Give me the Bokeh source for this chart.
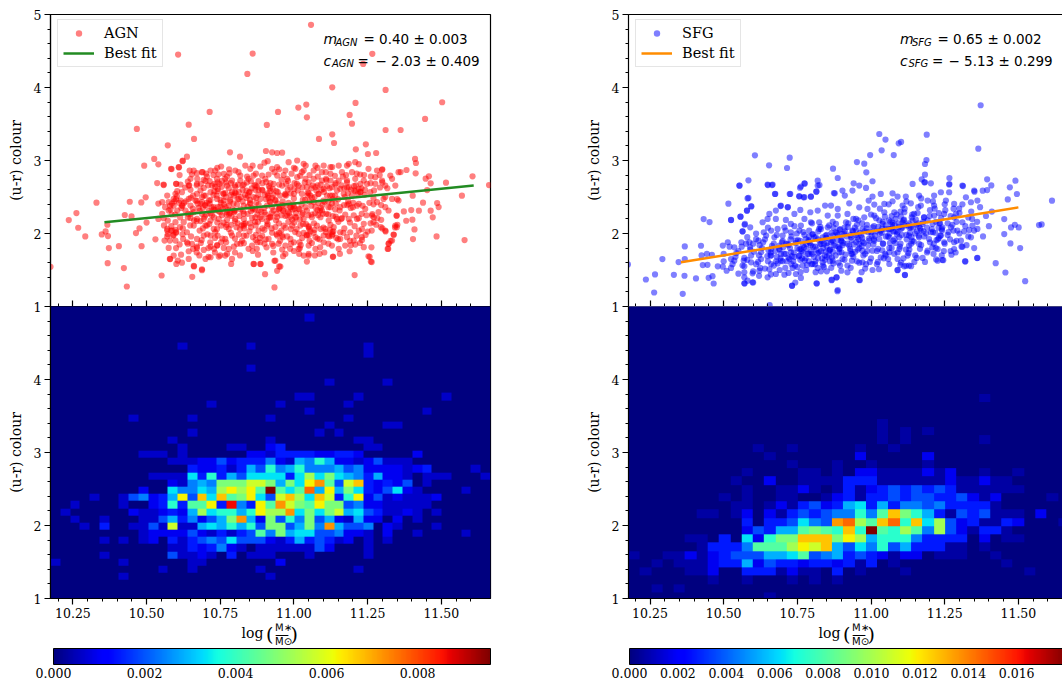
import numpy as np
from bokeh.plotting import figure
from bokeh.layouts import row, column
from bokeh.models import (ColumnDataSource, LinearColorMapper, ColorBar, FixedTicker, Label,
                          NumeralTickFormatter, LinearAxis, Range1d, CustomLabelingPolicy)
from bokeh.embed import file_html
from bokeh.resources import INLINE

SERIF = "DejaVu Serif"
SANS = "DejaVu Sans"
x_major = [10.25, 10.5, 10.75, 11.0, 11.25, 11.5]
x_minor = [round(10.2 + 0.05 * i, 2) for i in range(29)]
y_major_top = [1, 2, 3, 4, 5]
y_major_low = [1, 2, 3, 4]
y_minor = [round(1 + 0.2 * i, 1) for i in range(21)]
agn_fit_x = [10.357, 11.61]
agn_fit_y = [2.153, 2.656]
sfg_fit_x = [10.355, 11.5]
sfg_fit_y = [1.605, 2.358]
agn_ticks = [0, 0.002, 0.004, 0.006, 0.008]
sfg_ticks = [0, 0.002, 0.004, 0.006, 0.008, 0.010, 0.012, 0.014, 0.016]
agn_vmax = 0.0096
sfg_vmax = 0.0181

agn_points = [
(10.174,1.544),(10.236,2.184),(10.262,2.280),(10.268,2.079),(10.292,1.960),(10.330,2.422),(10.348,1.987),(10.361,2.029),
(10.369,1.965),(10.367,2.120),(10.372,1.800),(10.368,1.594),(10.406,1.827),(10.423,1.526),(10.433,1.274),(10.426,2.253),
(10.449,2.234),(10.443,2.435),(10.464,2.006),(10.476,2.070),(10.483,1.827),(10.467,3.432),(10.492,2.929),(10.526,3.021),
(10.540,2.947),(10.572,3.208),(10.643,3.491),(10.661,3.295),(10.607,4.451),(10.714,3.665),(10.860,4.465),(10.842,4.186),
(11.058,4.858),(11.266,4.461),(11.235,4.323),(11.130,4.003),(11.311,3.967),(11.503,3.798),(11.209,3.789),(11.015,3.725),
(11.042,3.766),(10.946,3.665),(11.044,3.592),(10.908,3.487),(11.189,3.624),(11.197,3.505),(11.445,3.569),(11.085,3.295),
(11.130,3.359),(11.136,3.240),(11.311,3.418),(11.362,3.418),(11.210,3.153),(11.244,3.222),(11.251,3.089),(11.279,3.103),
(10.783,3.112),(10.817,3.053),(10.905,3.130),(10.926,3.112),(10.943,3.103),(10.960,3.107),(10.585,2.883),(10.610,2.906),
(10.623,2.998),(10.637,3.053),(10.536,2.691),(10.558,2.664),(10.482,2.426),(10.497,2.495),(11.411,3.021),(11.414,2.966),
(11.606,2.783),(11.516,2.696),(11.662,2.664),(11.570,2.518),(11.579,1.910),(11.484,1.960),(11.206,1.430),(10.934,1.261),
(10.902,1.443),(10.934,1.626),(10.950,1.549),(10.943,1.489),(10.655,1.407),(10.688,1.498),(10.661,1.549),(10.551,1.425),
(10.864,1.581),(10.887,1.581),(11.257,1.681),(11.264,1.608),(11.132,1.681),(11.320,1.791),(11.404,1.923),(11.409,2.056),
(11.486,2.417),(11.491,2.362),(11.471,2.221),(11.464,2.312),(11.438,2.422),(11.447,2.751),(11.458,2.783),(11.464,2.687),
(11.452,2.595),(11.413,2.824),(11.382,2.870),(11.362,2.842),(11.403,2.518),(11.424,2.312),(11.398,2.321),(11.402,2.189),
(11.381,2.175),(11.373,2.303),(11.348,2.243),(11.351,2.120),(11.343,2.083),(11.339,1.983),(11.328,1.901),(11.322,1.864),
(11.311,2.029),(11.300,2.070),(11.271,2.221),(11.266,2.267),
(10.583,2.886),(10.609,2.909),(10.622,2.991),(10.646,2.863),(10.671,2.826),(10.688,2.840),(10.717,2.863),(10.753,2.918),(10.733,2.863),(10.762,2.817),
(10.781,2.826),(10.801,2.863),(10.818,2.794),(10.835,2.931),(10.852,2.886),(10.886,2.918),(10.911,2.991),(10.926,2.886),(10.943,2.909),
(10.649,2.749),(10.671,2.680),(10.643,2.657),(10.601,2.680),(10.615,2.671),(10.558,2.671),(10.694,2.735),(10.714,2.717),(10.739,2.749),(10.767,2.749),
(10.790,2.726),(10.818,2.726),(10.841,2.781),(10.863,2.794),(10.892,2.794),(10.914,2.808),(10.943,2.794),
(10.694,2.625),(10.722,2.657),(10.748,2.680),(10.773,2.657),(10.801,2.634),(10.830,2.671),(10.854,2.717),(10.880,2.717),(10.906,2.703),(10.931,2.680),
(10.598,2.543),(10.620,2.566),(10.649,2.598),(10.671,2.543),(10.694,2.520),(10.717,2.566),(10.741,2.580),(10.767,2.552),(10.790,2.566),(10.813,2.566),
(10.839,2.589),(10.869,2.598),(10.892,2.598),(10.920,2.580),(10.945,2.566),
(10.592,2.474),(10.615,2.452),(10.643,2.474),(10.666,2.452),(10.688,2.429),(10.717,2.461),(10.739,2.474),(10.762,2.452),(10.784,2.461),(10.813,2.474),
(10.839,2.488),(10.863,2.497),(10.886,2.474),(10.914,2.488),(10.937,2.461),
(10.553,2.429),(10.575,2.429),(10.592,2.383),(10.620,2.383),(10.649,2.383),(10.677,2.351),(10.700,2.383),(10.728,2.360),(10.750,2.369),(10.779,2.383),
(10.807,2.397),(10.830,2.383),(10.852,2.406),(10.880,2.397),(10.909,2.383),
(10.575,2.315),(10.604,2.315),(10.632,2.315),(10.660,2.292),(10.688,2.269),(10.717,2.278),(10.745,2.305),(10.773,2.292),(10.798,2.315),(10.827,2.305),
(10.854,2.305),(10.880,2.315),(10.931,2.315),
(10.553,2.269),(10.572,2.177),(10.598,2.155),(10.626,2.155),(10.649,2.214),(10.671,2.200),(10.694,2.200),(10.717,2.177),(10.745,2.200),(10.773,2.187),
(10.801,2.200),(10.830,2.200),(10.858,2.214),(10.886,2.223),(10.914,2.214),(10.943,2.223),
(10.570,2.063),(10.587,2.040),(10.590,1.972),(10.613,2.086),(10.637,2.017),(10.660,2.109),(10.680,2.040),(10.705,2.109),(10.728,2.063),(10.753,2.109),
(10.779,2.063),(10.805,2.086),(10.830,2.109),(10.854,2.086),(10.880,2.040),(10.909,2.109),(10.937,2.086),
(10.561,1.903),(10.579,1.903),(10.598,1.903),(10.575,1.803),(10.624,1.926),(10.637,1.880),(10.654,1.858),(10.671,1.926),(10.694,1.972),(10.717,1.972),
(10.741,1.972),(10.767,1.926),(10.790,1.972),(10.813,1.985),(10.839,1.972),(10.861,1.949),(10.892,1.972),(10.914,1.926),(10.943,1.972),
(10.643,1.757),(10.671,1.803),(10.694,1.775),(10.717,1.821),(10.739,1.835),(10.762,1.803),(10.779,1.789),(10.807,1.858),(10.830,1.867),(10.858,1.835),
(10.886,1.880),(10.926,1.858),
(10.592,1.698),(10.579,1.652),(10.606,1.629),(10.601,1.583),(10.643,1.652),(10.660,1.556),(10.688,1.510),(10.700,1.652),(10.717,1.675),(10.745,1.684),
(10.767,1.698),(10.790,1.652),(10.787,1.583),(10.863,1.583),(10.886,1.583),(10.937,1.629),
(10.982,2.977),(11.011,3.000),(11.033,2.954),(11.073,2.931),(11.101,2.931),(11.124,2.909),(11.152,2.931),(11.186,2.954),(11.208,2.977),(10.971,2.863),
(11.005,2.886),(11.033,2.863),(11.067,2.863),(11.095,2.840),(11.124,2.817),(11.163,2.840),(11.197,2.840),(11.225,2.808),(11.253,2.886),(11.282,2.863),
(11.299,2.872),(11.327,2.794),(11.355,2.840),
(10.977,2.749),(11.011,2.772),(11.039,2.749),(11.067,2.749),(11.095,2.726),(11.124,2.726),(11.152,2.726),(11.180,2.726),(11.208,2.749),(11.237,2.726),
(11.276,2.772),(11.299,2.726),(11.333,2.749),
(10.960,2.657),(10.988,2.634),(11.016,2.657),(11.044,2.634),(11.073,2.634),(11.101,2.612),(11.129,2.634),(11.157,2.612),(11.186,2.634),(11.220,2.612),
(11.248,2.680),(11.276,2.680),(11.310,2.657),(11.344,2.657),
(10.971,2.543),(11.000,2.543),(11.027,2.543),(11.056,2.520),(11.084,2.543),(11.112,2.520),(11.140,2.520),(11.169,2.543),(11.197,2.520),(11.225,2.566),
(11.259,2.566),(11.282,2.429),(11.304,2.474),(11.333,2.474),(11.355,2.452),
(10.965,2.315),(10.988,2.360),(11.016,2.337),(11.044,2.315),(11.073,2.360),(11.095,2.315),(11.124,2.360),(11.155,2.315),(11.186,2.406),(11.220,2.406),
(11.242,2.337),(11.265,2.246),(11.287,2.292),(11.321,2.315),(11.349,2.246),
(10.977,2.246),(11.005,2.223),(11.033,2.200),(11.061,2.223),(11.090,2.223),(11.118,2.177),(11.146,2.200),(11.186,2.200),(11.214,2.200),(11.237,2.132),
(11.270,2.155),(11.296,2.187),(11.344,2.109),
(10.965,2.109),(10.994,2.109),(11.022,2.109),(11.050,2.086),(11.078,2.109),(11.107,2.063),(11.135,2.086),(11.157,2.017),(11.191,2.017),(11.220,2.040),
(11.250,2.027),(11.295,2.086),(11.310,2.040),(11.338,1.985),(11.349,2.086),
(10.960,1.972),(10.988,1.926),(11.016,1.995),(11.044,1.972),(11.073,1.949),(11.101,1.972),(11.129,1.972),(11.157,1.926),(11.180,1.949),(11.203,1.903),
(11.231,1.912),(11.333,1.903),(11.321,1.858),
(10.971,1.835),(11.000,1.880),(11.016,1.789),(11.050,1.835),(11.073,1.789),(11.101,1.880),(11.129,1.835),(11.174,1.835),(11.208,1.848),(11.237,1.812),
(11.318,1.789),(10.971,1.720),(11.033,1.698),(11.050,1.698),(11.087,1.720),(11.133,1.684),(11.189,1.757),(11.253,1.688),(11.261,1.615),(11.044,1.615),(10.954,1.547),
(10.66,2.86),(10.69,2.84),(10.74,2.90),(10.78,2.88),(10.86,2.93),(10.90,2.97),(10.95,2.88),(11.00,2.90),(11.04,2.93),(11.08,2.90),
(11.13,2.91),(11.18,2.93),(11.22,2.95),(11.30,2.88),(10.60,2.68),(10.64,2.71),(10.67,2.66),(10.70,2.72),(10.73,2.68),(10.77,2.70),
(10.80,2.66),(10.84,2.70),(10.87,2.66),(10.92,2.69),(10.95,2.67),(10.98,2.72),(11.01,2.68),(11.05,2.70),(11.08,2.66),(11.11,2.73),
(11.14,2.67),(11.18,2.70),(11.21,2.66),(11.26,2.69),(11.30,2.70),(10.57,2.52),(10.60,2.47),(10.65,2.49),(10.67,2.45),(10.70,2.52),
(10.73,2.58),(10.76,2.55),(10.80,2.56),(10.82,2.50),(10.85,2.57),(10.88,2.60),(10.91,2.55),(10.94,2.58),(10.97,2.53),(11.00,2.48),
(11.03,2.46),(11.05,2.55),(11.07,2.50),(11.10,2.45),(11.13,2.52),(11.15,2.47),(11.18,2.63),(11.21,2.58),(11.24,2.53),(11.27,2.48),
(11.31,2.50),(11.35,2.47),(10.54,2.41),(10.58,2.38),(10.61,2.42),(10.65,2.27),(10.68,2.31),(10.72,2.36),(10.75,2.29),(10.78,2.26),
(10.80,2.31),(10.83,2.27),(10.86,2.33),(10.90,2.29),(10.92,2.43),(10.95,2.34),(10.98,2.30),(11.00,2.37),(11.03,2.28),(11.06,2.26),
(11.08,2.32),(11.11,2.27),(11.14,2.33),(11.17,2.39),(11.20,2.36),(11.23,2.27),(11.27,2.40),(11.31,2.36),(10.50,2.15),(10.54,2.20),
(10.57,2.04),(10.60,2.01),(10.64,2.22),(10.67,2.17),(10.70,2.11),(10.74,2.15),(10.77,2.09),(10.80,2.17),(10.83,2.13),(10.87,2.11),
(10.90,2.05),(10.92,2.22),(10.95,2.01),(10.99,2.06),(11.02,2.19),(11.05,2.10),(11.07,2.05),(11.10,2.08),(11.13,2.02),(11.16,2.20),
(11.19,2.15),(11.22,2.21),(11.26,2.14),(10.53,1.92),(10.57,1.96),(10.60,1.80),(10.64,1.86),(10.67,1.82),(10.71,1.80),(10.74,1.84),
(10.77,1.88),(10.80,1.93),(10.83,1.97),(10.87,1.91),(10.90,1.86),(10.93,1.83),(10.96,1.78),(10.99,1.86),(11.02,1.80),(11.05,1.98),
(11.08,1.93),(11.12,1.96),(11.15,1.92),(11.19,1.90),(11.23,1.95),(10.58,1.65),(10.62,1.60),(10.67,1.74),(10.71,1.68),(10.75,1.70),
(10.80,1.74),(10.86,1.76),(10.93,1.74),(11.00,1.76),(11.05,1.72),
(10.742,2.61),(10.761,2.54),(10.779,2.62),(10.803,2.55),(10.826,2.60),(10.848,2.56),(10.857,2.62),(10.879,2.53),(10.893,2.59),(10.918,2.62),(10.989,2.55),(11.001,2.61),
(11.047,2.56),(11.059,2.62),(11.083,2.54),(11.094,2.60),(11.102,2.57),(11.121,2.62),(11.183,2.55),(11.194,2.60),(11.217,2.54),(11.229,2.62),(11.226,2.57),
(10.594,2.44),(10.603,2.51),(10.688,2.50),(10.712,2.45),(10.738,2.52),(10.751,2.46),(10.769,2.50),(10.783,2.44),(10.797,2.52),(10.809,2.47),(10.826,2.44),(10.844,2.52),
(10.851,2.46),(10.872,2.49),(10.905,2.47),(10.912,2.52),(10.918,2.44),(10.926,2.49),(10.931,2.53),(10.937,2.45),(10.962,2.44),(10.973,2.52),(11.038,2.46),(11.046,2.52),
(11.052,2.44),(11.061,2.49),(11.116,2.44),(11.123,2.52),(11.131,2.47),(11.172,2.50),(11.184,2.44),
(10.618,2.35),(10.627,2.42),(10.622,2.38),(10.683,2.41),(10.691,2.35),(10.698,2.39),(10.704,2.42),(10.741,2.36),(10.752,2.42),(10.759,2.34),(10.763,2.40),(10.843,2.37),
(10.851,2.42),(10.859,2.35),(10.944,2.41),(10.952,2.35),(10.961,2.39),(10.982,2.42),(10.989,2.36),(10.997,2.40),(11.002,2.34),(11.083,2.42),(11.091,2.35),(11.097,2.39),
(11.104,2.43),(11.117,2.36),(11.129,2.41),(11.193,2.35),(11.201,2.42),(11.214,2.38),
(10.581,2.33),(10.597,2.26),(10.711,2.31),(10.722,2.25),(10.728,2.33),(10.771,2.26),(10.776,2.32),(10.783,2.28),(10.788,2.24),(10.792,2.33),(10.797,2.29),(10.868,2.33),
(10.876,2.26),(10.889,2.30),(10.941,2.27),(10.949,2.33),(10.958,2.25),(10.963,2.31),(10.984,2.28),(10.996,2.33),(11.082,2.25),(11.089,2.31),(11.098,2.27),(11.019,2.33),(11.028,2.26),
(10.683,2.17),(10.697,2.23),(10.869,2.22),(10.878,2.16),(10.891,2.20),(10.908,2.17),(10.921,2.23),(10.939,2.18),(10.981,2.16),(10.988,2.23),(10.994,2.19),(11.001,2.15),
(11.008,2.22),(11.142,2.23),(11.151,2.16),(11.163,2.21),
(10.772,2.12),(10.809,2.14),(10.817,2.06),(10.823,2.11),(10.831,2.07),(10.836,2.14),(10.911,2.13),(10.924,2.07),(11.041,2.13),(11.052,2.06),
(10.583,2.04),(10.592,1.98),(10.601,2.02),(10.598,2.05),(10.941,1.99),(10.957,2.04),(11.043,1.98),(11.056,2.03),(11.108,2.02),(11.116,1.97),(11.122,2.05),(11.131,1.99),(11.134,2.03),
(10.876,1.88),(10.885,1.94),(10.953,1.90),(10.962,1.95),(11.019,1.88),(11.028,1.94),(11.053,1.90),(10.716,1.88),(10.732,1.94),
(10.645,2.66),(10.705,2.78),(10.733,2.64),(10.786,2.69),(10.915,2.65),(10.965,2.80),(11.002,2.69),(11.064,2.66),(11.109,2.75),(11.142,2.69),(11.204,2.65),(11.238,2.80),
(10.672,2.75),(10.756,2.72),(10.875,2.64),(11.021,2.79),(11.166,2.78),
(10.604,2.58),(10.631,2.63),(10.658,2.52),(10.683,2.59),(10.709,2.66),(10.727,2.53),(10.755,2.64),(10.786,2.53),(10.811,2.67),(10.834,2.53),(10.866,2.66),(10.901,2.53),
(10.928,2.61),(10.953,2.52),(10.979,2.60),(11.013,2.59),(11.029,2.63),(11.076,2.59),(11.112,2.65),(11.146,2.59),(11.171,2.62),(11.205,2.59),(11.241,2.60),(11.272,2.59),(11.292,2.63),
(10.612,2.80),(10.654,2.81),(10.702,2.82),(10.727,2.80),(10.773,2.78),(10.812,2.84),(10.846,2.75),(10.871,2.82),(10.903,2.75),(10.934,2.84),(10.958,2.74),(10.992,2.82),
(11.027,2.84),(11.053,2.80),(11.081,2.78),(11.108,2.84),(11.139,2.79),(11.177,2.80),(11.213,2.82),(11.261,2.78),(11.291,2.80),(10.744,2.81),(10.684,2.68),(10.741,2.70),
(10.826,2.66),(10.893,2.69),(10.973,2.68),(11.037,2.70),(11.091,2.67),(11.161,2.66),(11.226,2.68),(11.317,2.62),
(10.563,2.36),(10.586,2.41),(10.633,2.44),(10.657,2.34),(10.673,2.41),(10.714,2.41),(10.733,2.32),(10.768,2.36),(10.795,2.41),(10.819,2.33),(10.872,2.42),(10.899,2.35),
(10.926,2.36),(10.971,2.38),(11.026,2.40),(11.039,2.36),(11.059,2.38),(11.067,2.43),(11.142,2.41),(11.157,2.36),(11.181,2.39),(11.233,2.38),(11.256,2.42),(11.296,2.39),
(10.558,2.21),(10.585,2.26),(10.614,2.22),(10.641,2.27),(10.661,2.18),(10.702,2.26),(10.729,2.22),(10.756,2.25),(10.815,2.24),(10.843,2.27),(10.868,2.16),(10.904,2.26),
(10.924,2.28),(10.971,2.24),(11.007,2.28),(11.049,2.25),(11.072,2.28),(11.117,2.26),(11.132,2.24),(11.174,2.26),(11.203,2.25),(11.246,2.25),(11.283,2.21),
(10.559,2.11),(10.584,2.10),(10.623,2.07),(10.648,2.11),(10.691,2.07),(10.713,2.13),(10.739,2.06),(10.761,2.15),(10.787,2.12),(10.851,2.14),(10.893,2.07),(10.949,2.14),
(10.972,2.08),(11.009,2.06),(11.031,2.13),(11.068,2.14),(11.091,2.06),(11.124,2.12),(11.171,2.07),(11.206,2.10),(11.231,2.06),(11.279,2.12),
(10.572,1.99),(10.622,1.99),(10.651,1.96),(10.687,1.91),(10.706,1.99),(10.733,2.02),(10.757,1.93),(10.786,2.01),(10.824,1.90),(10.849,2.03),(10.871,1.98),(10.904,1.92),
(10.926,2.01),(10.977,1.96),(11.004,2.02),(11.033,2.01),(11.067,2.01),(11.087,1.92),(11.144,1.94),(11.168,2.01),(11.212,1.97),(11.243,1.98),(11.264,2.04),
(10.612,1.85),(10.658,1.79),(10.684,1.87),(10.729,1.79),(10.753,1.88),(10.796,1.82),(10.819,1.86),(10.846,1.79),(10.874,1.79),(10.907,1.81),(10.948,1.86),(10.987,1.79),
(11.023,1.84),(11.061,1.87),(11.089,1.81),(11.117,1.86),(11.152,1.79),(11.193,1.84),(11.224,1.87),(11.263,1.81),
(10.617,1.71),(10.679,1.70),(10.732,1.74),(10.773,1.72),(10.817,1.70),(10.878,1.71),(10.963,1.69),(11.018,1.72),(11.071,1.70),(11.103,1.74),(11.156,1.72),
]
sfg_points = [
(10.175,1.576),(10.236,1.370),(10.267,1.439),(10.264,1.192),(10.292,1.649),(10.331,1.434),(10.347,1.608),(10.361,1.174),
(10.368,1.823),(10.368,1.649),(10.367,1.421),(10.406,1.384),(10.423,1.832),(10.429,1.567),(10.445,1.571),(10.425,1.699),
(10.443,1.722),(10.460,1.709),(10.449,1.393),(10.462,1.416),(10.466,1.315),(10.432,2.198),(10.452,2.157),(10.525,2.184),
(10.516,2.408),(10.554,2.655),(10.557,2.230),(10.584,2.728),(10.581,2.481),(10.579,2.312),(10.594,2.371),(10.564,2.029),
(10.571,2.120),(10.606,3.071),(10.654,2.934),(10.715,2.897),(10.724,3.039),(10.650,2.664),(10.664,2.664),(10.674,2.541),
(10.724,2.541),(10.693,2.376),(10.718,2.362),(10.759,2.627),(10.775,2.682),(10.756,2.509),(10.771,2.495),(10.796,2.504),
(10.814,2.573),(10.819,2.723),(10.825,2.664),(10.871,2.888),(10.887,2.760),(10.874,2.554),(10.952,2.979),(10.977,2.957),
(10.984,2.838),(11.028,3.363),(11.049,3.286),(11.036,3.139),(10.997,3.075),(11.077,3.075),(11.094,3.235),(11.102,3.254),
(11.189,3.354),(11.188,3.007),(11.183,2.952),(11.183,2.806),(11.172,2.742),(11.181,2.701),(11.372,3.757),(11.364,3.162),
(11.266,2.76),(11.266,2.678),(11.312,2.650),(11.394,2.742),(11.408,2.659),(11.379,2.586),(11.394,2.595),(11.351,2.573),
(11.471,2.632),(11.490,2.723),(11.495,2.541),(11.464,2.467),(11.614,2.449),(11.570,2.115),(11.579,2.125),(11.452,2.198),
(11.501,2.083),(11.488,2.120),(11.475,2.083),(11.452,1.992),(11.473,1.864),(11.506,1.800),(11.523,1.347),(11.456,1.466),
(11.423,1.594),(11.360,1.663),(11.320,1.617),(11.245,1.635),(11.221,1.645),(11.115,1.430),(11.136,1.553),(11.119,1.558),
(11.102,1.603),(11.090,1.498),(10.962,1.361),(10.886,1.210),(10.883,1.398),(10.866,1.361),(10.816,1.315),(10.732,1.283),
(10.743,1.329),(10.656,1.018),(10.571,1.315),(10.600,1.329),
(10.553,2.656),(10.649,2.670),(10.666,2.670),(10.762,2.643),(10.774,2.688),(10.819,2.656),(10.675,2.542),(10.726,2.542),(10.757,2.510),(10.774,2.497),
(10.796,2.506),(10.815,2.574),(10.584,2.487),(10.593,2.373),(10.579,2.314),(10.557,2.231),(10.525,2.186),(10.694,2.382),(10.717,2.359),(10.655,2.268),
(10.677,2.314),(10.649,2.199),(10.677,2.199),(10.711,2.186),(10.740,2.268),(10.760,2.323),(10.774,2.199),(10.794,2.291),(10.819,2.314),(10.844,2.382),
(10.864,2.382),(10.887,2.337),(10.903,2.588),(10.911,2.519),(10.937,2.588),(10.926,2.414),(10.877,2.551),(10.941,2.688),(10.960,2.656),(10.983,2.624),
(11.005,2.716),(10.992,2.451),(11.005,2.506),(11.033,2.542),(11.073,2.551),(11.090,2.506),(11.118,2.506),(11.141,2.679),(11.183,2.702),(11.203,2.688),
(11.265,2.670),(11.310,2.656),(11.350,2.588),(11.163,2.519),(11.192,2.451),(11.214,2.519),(11.237,2.565),(11.265,2.565),(11.322,2.497),(11.339,2.428),
(11.361,2.451),(11.282,2.405),(11.254,2.451),(11.214,2.382),(11.169,2.382),(11.135,2.414),(11.107,2.382),(11.073,2.442),(11.045,2.405),(11.011,2.396),
(10.988,2.337),(10.960,2.359),(10.920,2.268),(10.887,2.245),(10.853,2.245),(10.824,2.154),(10.796,2.154),(10.762,2.108),(10.728,2.131),(10.706,2.085),
(10.683,2.062),(10.661,2.040),(10.632,2.154),(10.636,2.017),(10.610,1.925),(10.590,2.085),(10.572,2.131),(10.564,2.030),(10.514,1.880),(10.497,1.834),
(10.536,1.811),(10.561,1.820),(10.587,1.880),(10.590,1.811),(10.618,1.902),(10.644,1.971),(10.672,1.948),(10.700,1.971),(10.728,2.017),(10.757,2.040),
(10.790,2.040),(10.824,2.062),(10.853,2.085),(10.881,2.131),(10.915,2.154),(10.949,2.199),(10.977,2.222),(11.011,2.245),(11.045,2.291),(11.079,2.291),
(11.113,2.291),(11.146,2.268),(11.180,2.222),(11.214,2.245),(11.248,2.268),(11.282,2.222),(11.310,2.154),(11.344,2.108),(11.361,2.062),(11.333,2.049),
(10.525,1.651),(10.536,1.628),(10.570,1.665),(10.593,1.697),(10.627,1.742),(10.661,1.788),(10.689,1.834),(10.717,1.857),(10.745,1.902),(10.779,1.925),
(10.807,1.948),(10.836,1.948),(10.870,1.971),(10.903,1.994),(10.937,2.040),(10.971,2.062),(11.005,2.085),(11.039,2.131),(11.073,2.154),(11.107,2.154),
(11.141,2.177),(11.175,2.131),(11.209,2.131),(11.242,2.085),(11.271,2.085),(11.293,2.040),(11.339,1.948),
(10.564,1.560),(10.593,1.605),(10.627,1.651),(10.661,1.697),(10.694,1.720),(10.728,1.742),(10.762,1.788),(10.796,1.834),(10.830,1.857),(10.864,1.880),
(10.898,1.902),(10.932,1.948),(10.966,1.971),(11.000,2.017),(11.033,2.040),(11.067,2.062),(11.101,2.062),(11.135,2.085),(11.169,2.040),(11.203,2.017),
(11.237,1.971),(11.248,1.880),(11.282,1.880),(11.305,1.902),(11.307,1.820),
(10.497,1.546),(10.525,1.528),(10.570,1.468),(10.598,1.455),(10.624,1.528),(10.661,1.582),(10.694,1.628),(10.723,1.651),(10.757,1.697),(10.790,1.720),
(10.824,1.742),(10.858,1.765),(10.892,1.788),(10.926,1.834),(10.960,1.857),(10.994,1.902),(11.028,1.925),(11.062,1.948),(11.096,1.948),(11.129,1.971),
(11.163,1.948),(11.197,1.925),(11.226,1.788),(11.282,1.788),(11.242,1.637),(11.273,1.710),(11.212,1.720),(11.175,1.665),(11.155,1.665),(11.129,1.560),
(11.113,1.551),(11.090,1.500),(11.115,1.432),(11.062,1.582),(11.033,1.674),(11.005,1.765),(10.971,1.765),(10.937,1.720),(10.903,1.651),(10.870,1.628),
(10.836,1.605),(10.802,1.582),(10.768,1.560),(10.734,1.528),(10.706,1.436),(10.677,1.445),(10.649,1.400),(10.621,1.491),(10.581,1.354),(10.598,1.331),
(10.570,1.317),(10.745,1.445),(10.762,1.391),(10.732,1.285),(10.819,1.528),(10.830,1.482),(10.815,1.317),(10.850,1.482),(10.867,1.368),(10.883,1.400),
(10.887,1.226),(10.920,1.468),(10.960,1.363),(11.005,1.500),(10.971,1.605),(10.935,1.628),(11.319,1.619),(11.361,1.665),(11.062,1.742),(11.096,1.788),
(11.129,1.834),(11.163,1.857),(11.192,1.765),(11.226,1.628),(11.124,1.697),(11.090,1.651),
(10.48,1.55),(10.50,1.62),(10.50,1.72),(10.51,1.49),(10.52,1.82),(10.53,1.58),(10.54,1.68),(10.55,1.45),(10.55,1.76),(10.56,1.88),
(10.57,1.40),(10.57,1.55),(10.58,1.64),(10.58,1.95),(10.59,1.78),(10.60,1.48),(10.60,1.86),(10.61,1.58),(10.61,2.00),(10.62,1.70),
(10.62,1.42),(10.63,1.80),(10.64,1.52),(10.64,1.92),(10.65,1.62),(10.65,2.08),(10.66,1.74),(10.66,1.44),(10.67,1.86),(10.67,1.56),
(10.68,1.98),(10.68,1.68),(10.69,1.50),(10.69,1.78),(10.70,1.90),(10.70,1.62),(10.71,2.04),(10.71,1.72),(10.72,1.46),(10.72,1.84),
(10.73,1.58),(10.73,1.96),(10.74,1.68),(10.74,2.10),(10.75,1.54),(10.75,1.80),(10.76,1.90),(10.76,1.64),(10.77,1.74),(10.77,2.02),
(10.78,1.50),(10.78,1.86),(10.79,1.62),(10.79,1.96),(10.80,1.72),(10.80,2.14),(10.81,1.58),(10.81,1.82),(10.82,1.92),(10.82,1.66),
(10.83,1.76),(10.83,2.06),(10.84,1.54),(10.84,1.86),(10.85,1.68),(10.85,1.98),(10.86,1.62),(10.86,1.78),(10.87,2.16),(10.87,1.90),
(10.88,1.70),(10.88,2.02),(10.89,1.60),(10.89,1.82),(10.90,1.94),(10.90,1.74),(10.91,2.08),(10.91,1.64),(10.92,1.86),(10.92,1.56),
(10.93,1.98),(10.93,1.76),(10.94,2.20),(10.94,1.68),(10.95,1.88),(10.95,2.04),(10.96,1.60),(10.96,1.80),(10.97,1.94),(10.97,2.14),
(10.98,1.72),(10.98,1.52),(10.99,2.02),(10.99,1.84),(11.00,1.66),(11.00,2.26),(11.01,1.92),(11.01,2.10),(11.02,1.76),(11.02,1.58),
(11.03,2.00),(11.03,2.34),(11.04,1.86),(11.04,2.16),(11.05,1.70),(11.05,1.96),(11.06,2.06),(11.06,2.40),(11.07,1.80),(11.07,2.24),
(11.08,1.92),(11.08,2.12),(11.09,1.74),(11.09,2.02),(11.10,2.30),(11.10,1.86),(11.11,1.66),(11.11,2.18),(11.12,1.98),(11.12,2.44),
(11.13,1.78),(11.13,2.08),(11.14,2.26),(11.14,1.90),(11.15,2.00),(11.15,1.70),(11.16,2.36),(11.16,2.14),(11.17,1.84),(11.17,2.48),
(11.18,1.96),(11.18,2.22),(11.19,1.74),(11.19,2.08),(11.20,2.32),(11.20,1.88),(11.21,2.02),(11.21,2.44),(11.22,1.80),(11.22,2.16),
(11.23,1.94),(11.23,2.28),(11.24,1.70),(11.24,2.06),(11.25,2.40),(11.25,1.86),(11.26,2.14),(11.26,1.98),(11.27,2.24),(11.27,1.76),
(11.28,2.34),(11.28,2.04),(11.29,1.90),(11.29,2.16),(11.30,2.00),(11.30,2.28),(11.31,1.82),(11.31,2.40),(11.32,2.10),(11.33,1.96),
(11.33,2.22),(11.34,2.30),(11.35,2.04),(11.35,1.80),(11.36,2.16),(11.37,2.36),(11.38,1.96),(11.39,2.24),(11.40,2.10),(11.41,2.30),
(10.72,1.67),(10.738,1.74),(10.755,1.69),(10.764,1.76),(10.778,1.66),(10.786,1.72),(10.797,1.75),(10.806,1.68),(10.819,1.73),(10.834,1.66),(10.846,1.75),(10.858,1.70),
(10.867,1.67),(10.659,1.70),(10.675,1.76),(10.693,1.66),(10.705,1.72),(10.892,1.74),(10.974,1.70),(11.048,1.72),(11.043,1.66),
(10.688,1.79),(10.712,1.86),(10.725,1.80),(10.744,1.87),(10.757,1.78),(10.769,1.84),(10.781,1.79),(10.792,1.87),(10.803,1.82),(10.815,1.78),(10.826,1.85),(10.838,1.80),
(10.851,1.87),(10.862,1.78),(10.873,1.84),(10.894,1.80),(10.906,1.87),(10.929,1.79),(10.941,1.85),(10.955,1.78),(10.969,1.83),(11.024,1.79),(11.041,1.86),(11.062,1.80),
(11.083,1.87),(11.098,1.82),(11.118,1.78),(11.136,1.86),
(10.752,1.91),(10.774,1.98),(10.789,1.89),(10.812,1.95),(10.833,1.90),(10.846,1.97),(10.868,1.91),(10.887,1.98),(10.901,1.89),(10.919,1.96),(10.934,1.91),(10.948,1.98),
(10.972,1.89),(10.993,1.93),(11.002,1.97),(11.011,1.90),(11.057,1.96),(11.076,1.90),(11.104,1.98),(11.121,1.92),(11.145,1.89),(11.162,1.97),(11.222,1.91),(11.235,1.97),
(10.873,2.08),(10.884,2.01),(10.895,2.06),(10.909,2.00),(10.921,2.09),(10.938,2.03),(10.945,2.08),(10.962,2.01),(10.985,2.07),(11.024,2.09),(11.036,2.01),(11.049,2.06),
(11.063,2.00),(11.072,2.08),(11.083,2.03),(11.095,2.09),(11.132,2.01),(11.143,2.08),(11.156,2.03),(11.167,2.07),(11.218,2.01),(11.229,2.08),(11.241,2.04),
(11.061,2.18),(11.072,2.12),(11.083,2.20),(11.094,2.14),(11.112,2.19),(11.125,2.11),(10.952,2.12),(11.028,2.18),(11.154,2.12),(11.192,2.18),
(10.714,1.62),(10.742,1.56),(10.775,1.63),(10.798,1.58),(10.844,1.64),(10.872,1.59),(10.895,1.56),(10.952,1.62),(10.983,1.58),(11.023,1.61),
(10.543,1.73),(10.568,1.63),(10.576,1.86),(10.603,1.75),(10.617,1.61),(10.634,1.88),(10.648,1.69),(10.655,1.51),(10.664,1.83),(10.683,1.59),(10.698,1.88),(10.709,1.53),
(10.727,1.92),(10.736,1.62),(10.748,2.00),(10.761,1.47),(10.773,1.81),(10.783,1.57),(10.801,1.99),(10.812,1.47),(10.821,2.03),(10.837,1.56),(10.849,1.83),(10.858,2.11),
(10.865,1.53),(10.879,1.83),(10.893,2.05),(10.899,1.49),(10.913,1.71),(10.923,2.14),(10.931,1.53),(10.946,1.75),(10.957,2.18),(10.968,1.47),(10.976,1.87),(10.986,2.12),
(10.996,1.61),(11.008,1.85),(11.017,2.21),(11.027,1.51),(11.038,1.77),(11.047,2.23),(11.058,1.65),(11.066,2.16),(11.079,1.72),(11.087,2.26),(11.099,1.57),(11.106,2.08),
(11.114,2.34),(11.127,1.73),(11.138,2.22),(11.147,1.61),(11.158,2.28),(11.166,1.79),(11.177,2.16),(11.183,1.61),(11.199,2.24),(11.208,1.81),(11.216,2.34),(11.227,1.92),
(11.234,2.14),(11.247,1.76),(11.252,2.32),(11.268,1.92),(11.276,2.12),(11.287,1.74),(11.299,2.34),(11.316,2.03),(11.324,1.84),(11.343,2.20),
(10.622,1.84),(10.652,1.77),(10.678,1.62),(10.702,1.81),(10.731,1.69),(10.766,1.66),(10.788,1.91),(10.811,1.62),(10.843,1.70),(10.871,1.75),(10.903,1.84),(10.933,1.72),
(10.957,1.92),(10.987,1.76),(11.013,1.97),(11.038,2.07),(11.064,1.87),(11.088,1.99),(11.113,2.11),(11.137,1.95),(11.163,2.10),(11.187,2.00),(11.213,1.86),(11.238,2.21),
(11.263,2.02),(11.288,2.27),(10.803,1.99),(10.828,2.09),(10.849,1.94),(10.866,2.01),(10.887,1.91),(10.912,2.03),(10.953,1.95),(10.979,2.03),(11.018,2.03),(11.051,2.11),
(11.076,2.03),(11.101,2.23),(11.128,2.14),(11.152,2.19),(11.178,2.03),(11.206,2.06),(11.232,2.14),
]

# 2-D histogram cells: row -> [(first column, [levels...])]; level 20 is the colour-scale top
agn_cells = {
20:[(13,[1]),(18,[1,1]),(22,[2,3]),(32,[1,1])],
19:[(9,[1,1,1,0,1]),(20,[2,2,1,3,3,3,3,2,2,3,3,2]),(37,[2])],
18:[(12,[1,1,1,2,2,4,2,3,3,3,5,2,1,6,5,8,6,2,2,1,2,4,1,1,1])],
17:[(14,[3,2,2,3,1,3,6,4,8,5,6,8,5,5,5,6,4,5,2,2,2,2,1,2,3]),(43,[1])],
16:[(10,[1,1,1,1,7,3,8,3,6,4,7,7,7,7,3,7,11,7,10,7,6,5,3,6,2,2,1,0,1,1,1]),(44,[1])],
15:[(12,[2,1,5,6,5,10,10,10,12,12,10,6,10,7,13,15,9,4,12,14,3,2,3,2,4,0,1])],
14:[(9,[2]),(12,[7,5,5,7,6,11,13,11,13,9,20,9,7,9,16,6,13,6,10,7,3,2,4,7,2,1]),(42,[1])],
13:[(4,[1]),(7,[1,4,5,2,3,6,13,4,14,7,14,9,10,13,7,4,12,14,11,7,14,12,3,8,13,2,4,1,2,1,1,1,2])],
12:[(2,[1]),(7,[1]),(10,[2,3,8,3,9,9,13,3,18,5,3,13,9,15,12,10,9,13,10,10,4,5,2,2,1,1,1,1,1])],
11:[(1,[1]),(8,[2,1,1,2,3,2,6,11,7,8,8,6,8,13,11,11,15,7,10,7,10,12,6,7,4,3,1,1,2,1,0,1])],
10:[(2,[1]),(5,[1]),(9,[1,1,4,6,3,5,2,4,6,10,15,6,2,10,4,8,5,10,4,6,2,1,6,2,2,0,2,0,1])],
9:[(3,[1,0,3]),(8,[1,1,4,1,12,1,1,6,7,6,8,6,8,4,10,10,4,6,10,5,15,6,4,4,5,0,2,1]),(39,[1])],
8:[(9,[1,2,2,2,2,4,2,1,3,1,3,4,9,5,10,6,7,7,4,4,5,2,2,1,0,2]),(37,[1]),(42,[1])],
7:[(5,[1,0,1,0,1,2,0,3,1,3,4,5,4,7,4,4,4,2,1,3,6,3,4,3,1,2,0,1,0,1])],
6:[(12,[1,1,3,2,3,5,2,1,0,1,1,1,1,1,1,4,2,0,0,0,1])],
5:[(5,[1]),(12,[4,1,1,2,1,0,3,0,1,1,1,0,0,0,1]),(32,[1])],
4:[(0,[1]),(7,[1]),(14,[1,1]),(23,[2])],
3:[(11,[1]),(14,[1]),(21,[1]),(31,[1])],
2:[(7,[1]),(22,[1])],
}
agn_sparse = [(26,38),(13,34),(20,34),(32,34),(32,33),(20,31),(28,29),(34,29),(25,27),(26,27),(31,27),(40,27),(16,26),(23,26),(30,26),
(26,25),(38,25),(8,24),(14,24),(22,24),(30,24),(28,23),(34,23),(35,23),(14,22),(27,22),(29,22),(12,21),(22,21),(31,21),(32,21)]
sfg_cells = {
17:[(11,[1]),(14,[1]),(20,[1]),(23,[1])],
16:[(12,[1]),(20,[2]),(26,[2])],
15:[(14,[1]),(18,[1]),(21,[1]),(26,[1])],
14:[(10,[1]),(15,[1,1,0,1,0,2,2,1,1,1,1,2,1,2]),(31,[1]),(34,[1])],
13:[(9,[1]),(12,[2]),(15,[1,1,1,1,3,3,3,1,1,1,1,1,1,2,1,1,2,1,1])],
12:[(10,[1]),(13,[1,1,2,1,0,1,3,1,2,3,4,3,4,3,4,3,1,1,1,1,1,1])],
11:[(8,[1,0,1]),(13,[1,1,0,0,1,2,3,1,3,3,4,3,4,4,3,3,4,2,1,2]),(37,[1])],
10:[(9,[1,1,0,1,2,1,3,4,2,3,6,7,3,6,3,5,5,4,5,3,3,3,3,1])],
9:[(6,[1,1,0,1,2,0,2,1,3,4,3,4,5,5,8,5,9,14,10,8,6,3,1,4,3,4,1,1,1,0,2])],
8:[(10,[3,0,3,3,4,7,5,4,15,16,11,9,14,16,8,14,7,11,4,2,3,1,1,3,2]),(38,[1])],
7:[(10,[2,4,3,6,6,9,10,9,8,14,8,20,9,8,11,9,5,11,4,2,1,3,3,1])],
6:[(5,[1,1,0,3,0,7,2,8,10,10,14,14,14,10,13,11,6,8,8,8,5,3,3,3,3,0,2,0,1,1])],
5:[(6,[1,3,3,3,5,9,9,9,11,13,12,14,6,4,7,5,8,4,6,3,3,3,1,1,0,1])],
4:[(0,[1]),(3,[1,1,2,1,2,3,4,4,4,6,6,7,9,4,5,6,3,4,3,2,1,2,2,0,1,1,1,0,0,1])],
3:[(2,[1,0,1,1,1,2,3,3,6,2,4,3,3,2,3,3,2,3,1,3,0,1]),(33,[1])],
2:[(1,[1]),(5,[1,1,2,0,0,3,3,3,1,2,1,1,0,3,0,1]),(24,[1]),(35,[1])],
1:[(7,[1]),(10,[1]),(14,[1]),(16,[1]),(18,[1])],
0:[(2,[1]),(4,[1])],
-1:[(12,[1])],
}
sfg_sparse = [(22,20),(22,19),(22,18),(24,19),(24,18),(26,19),(31,18),(31,23)]

def grid(cells, sparse, ncol, nrow, offset):
    g = np.zeros((nrow, ncol))
    for r, runs in cells.items():
        for c0, lv in runs:
            for i, v in enumerate(lv):
                g[r + offset, c0 + i] = v
    for c, r in sparse:
        g[r + offset, c] = 1
    return g

t = np.linspace(0, 1, 256)
def jet_hex():
    r = np.interp(t, [0, .35, .66, .89, 1], [0, 0, 1, 1, .5])
    g = np.interp(t, [0, .125, .375, .64, .91, 1], [0, 0, 1, 1, 0, 0])
    b = np.interp(t, [0, .11, .34, .65, 1], [.5, 1, 1, 0, 0])
    return ["#%02x%02x%02x" % (int(a*255), int(c*255), int(d*255)) for a, c, d in zip(r, g, b)]
JET = jet_hex()

def style(p, ticks_major_y, inward_x):
    p.outline_line_color = "black"
    p.outline_line_width = 1.2
    p.grid.visible = False
    p.yaxis.ticker = FixedTicker(ticks=ticks_major_y, minor_ticks=y_minor)
    p.xaxis.ticker = FixedTicker(ticks=x_major, minor_ticks=x_minor)
    p.xaxis.formatter = NumeralTickFormatter(format="0.00")
    p.yaxis.axis_label = "(u-r) colour"
    p.yaxis.axis_label_text_font = SERIF
    p.yaxis.axis_label_text_font_size = "14px"
    p.yaxis.axis_label_text_font_style = "normal"
    p.yaxis.axis_label_text_color = "black"
    p.yaxis.axis_label_standoff = 7
    for ax in (p.xaxis, p.yaxis):
        ax.major_label_text_font = SERIF
        ax.major_label_text_font_size = "12.5px"
        ax.major_label_text_color = "black"
        ax.major_tick_line_color = "black"
        ax.minor_tick_line_color = "black"
        ax.major_tick_line_width = 1.2
        ax.minor_tick_line_width = 1
        ax.axis_line_color = "black"
        ax.axis_line_width = 1.2
        ax.major_tick_in = 0
        ax.major_tick_out = 6
        ax.minor_tick_in = 0
        ax.minor_tick_out = 3
        ax.major_label_standoff = 3
    if inward_x:
        p.xaxis.major_tick_in = 6
        p.xaxis.major_tick_out = 0
        p.xaxis.minor_tick_in = 3
        p.xaxis.minor_tick_out = 0
        p.xaxis.major_label_text_font_size = "0px"
        p.xaxis.major_label_standoff = 0
        p.xaxis.major_label_policy = CustomLabelingPolicy(code="for (const i of Array.from(indices)) { indices.unset(i) } return indices")

def put(p, x, y, text, size, font=SANS, italic=False):
    p.add_layout(Label(x=x, y=y, text=text, text_font=font, text_font_size=size,
                       text_font_style="italic" if italic else "normal", text_color="black",
                       text_baseline="middle", text_align="left"))

def top_panel(points, fit_x, fit_y, name, dot, line, left_px, xr, yr, bl, w, br, lines, outline):
    p = figure(width=bl + w + br, height=314, x_range=xr, y_range=yr, output_backend="svg", toolbar_location=None,
               min_border_left=bl, min_border_right=br, min_border_top=14, min_border_bottom=8,
               frame_width=w, frame_height=292)
    src = ColumnDataSource(dict(x=[a for a, _ in points], y=[b for _, b in points]))
    p.scatter("x", "y", source=src, size=6.2, color=dot, alpha=0.5, line_color=None, legend_label=name)
    p.line(fit_x, fit_y, line_color=line, line_width=2.5, legend_label="Best fit")
    style(p, y_major_top, True)
    lg = p.legend[0]
    lg.location = (7, 239)
    lg.label_text_font = SERIF
    lg.label_text_font_size = "14.5px"
    lg.label_text_color = "black"
    lg.border_line_color = "#cccccc"
    lg.background_fill_alpha = 0.8
    lg.glyph_width = 31
    lg.glyph_height = 16
    lg.label_height = 16
    lg.label_standoff = 10
    lg.spacing = 4
    lg.padding = 5
    lg.margin = 0
    sx = (xr.end - xr.start) / w
    sy = 4 / 292
    for px, py, text, size, it in lines:
        put(p, xr.start + (px - left_px) * sx, 5 - (py - 14) * sy, text, size, SANS, it)
    if not outline:
        p.outline_line_color = None
        top = LinearAxis(major_tick_in=0, major_tick_out=0, minor_tick_in=0, minor_tick_out=0,
                         major_label_text_font_size="0px", major_label_standoff=0,
                         axis_line_color="black", axis_line_width=1.2, ticker=FixedTicker(ticks=[]))
        p.add_layout(top, "above")
    return p

def low_panel(g, x0, dw, y0, dh, mapper, xr, yr, bl, w, br, outline):
    p = figure(width=bl + w + br, height=317, x_range=xr, y_range=yr, output_backend="svg", toolbar_location=None,
               min_border_left=bl, min_border_right=br, min_border_top=0, min_border_bottom=25,
               frame_width=w, frame_height=292, margin=(-8, 0, 0, 0), border_fill_color=None)
    p.image(image=[g], x=x0, y=y0, dw=dw, dh=dh, color_mapper=mapper)
    style(p, y_major_low, False)
    if not outline:
        p.outline_line_color = None
    return p

def strip(mapper, ticks, total_w, d, frame_l, frame_r, cb_x, cb_w):
    # caption of the x axis and the colour bar; x range is in page pixels of this column's frame
    h = 58
    p = figure(width=total_w, height=h, x_range=Range1d(frame_l, frame_r), y_range=Range1d(h, 0), output_backend="svg",
               toolbar_location=None, x_axis_location=None, y_axis_location=None, min_border=0,
               outline_line_color=None)
    p.grid.visible = False
    top = 623
    put(p, 241 + d, 632.7 - top, "log", "14px", SERIF)
    put(p, 265.5 + d, 633 - top, "(", "19px", SERIF)
    put(p, 274.5 + d, 627.3 - top, "M∗", "10px", SANS)
    put(p, 274.5 + d, 640.5 - top, "M⊙", "10px", SANS)
    put(p, 290 + d, 633 - top, ")", "19px", SERIF)
    put(p, 274.5 + d, 633.7 - top, "—", "14px", SANS)
    cb = ColorBar(color_mapper=mapper, orientation="horizontal", width=cb_w, height=16, padding=0, margin=0,
                  location=(cb_x, 1), ticker=FixedTicker(ticks=ticks), formatter=NumeralTickFormatter(format="0.000"),
                  major_tick_line_color=None, minor_tick_line_color=None, bar_line_color="black", bar_line_width=1,
                  major_label_text_font=SERIF, major_label_text_font_size="12.5px", major_label_text_color="black",
                  label_standoff=3)
    p.add_layout(cb, "center")
    return p

agn_grid = grid(agn_cells, agn_sparse, 45, 43, 1)
sfg_grid = grid(sfg_cells, sfg_sparse, 39, 37, 1)
agn_vals = np.where(agn_grid == 1, 1.25, agn_grid) / 20 * agn_vmax
sfg_vals = np.where(sfg_grid == 1, 0.7, sfg_grid) / 20 * sfg_vmax

agn_lines = [(323, 38.3, "m", "14px", True), (335, 41.7, "AGN", "10px", True), (363, 38.3, "= 0.40 ± 0.003", "13.5px", False),
             (323, 60, "c", "14px", True), (331.5, 63.3, "AGN", "10px", True), (357, 60, "=", "13.5px", False), (375, 60, "− 2.03 ± 0.409", "13.5px", False)]
sfg_lines = [(899.5, 38.3, "m", "14px", True), (911.5, 41.7, "SFG", "10px", True), (937, 38.3, "= 0.65 ± 0.002", "13.5px", False),
             (899.5, 60, "c", "14px", True), (908, 63.3, "SFG", "10px", True), (931.5, 60, "=", "13.5px", False), (948, 60, "− 5.13 ± 0.299", "13.5px", False)]

XL = (10.174, 11.667)
XR = (10.177, 10.177 + 434 * (1 / 294.7))
agn_mapper = LinearColorMapper(palette=JET, low=0, high=agn_vmax)
sfg_mapper = LinearColorMapper(palette=JET, low=0, high=sfg_vmax)
p1 = top_panel(agn_points, agn_fit_x, agn_fit_y, "AGN", "#ff0000", "#228b22", 50, Range1d(*XL), Range1d(1, 5), 50, 440, 80, agn_lines, True)
p3 = low_panel(agn_vals, 10.174, 1.493, 0.955, 0.0985 * 43, agn_mapper, Range1d(*XL), Range1d(1, 5), 50, 440, 80, True)
s1 = strip(agn_mapper, agn_ticks, 570, 0, 50, 490, 3, 437)
p2 = top_panel(sfg_points, sfg_fit_x, sfg_fit_y, "SFG", "#0000ff", "#ff8c00", 628, Range1d(*XR), Range1d(1, 5), 58, 434, 0, sfg_lines, False)
p4 = low_panel(sfg_vals, 10.177, 1.4925, 0.973, 0.1128 * 37, sfg_mapper, Range1d(*XR), Range1d(1, 5), 58, 434, 0, False)
s2 = strip(sfg_mapper, sfg_ticks, 492, 577, 628, 1062, 1, 438)

root = row(column(p1, p3, s1), column(p2, p4, s2))
open("out.html", "w").write(file_html(root, INLINE))
